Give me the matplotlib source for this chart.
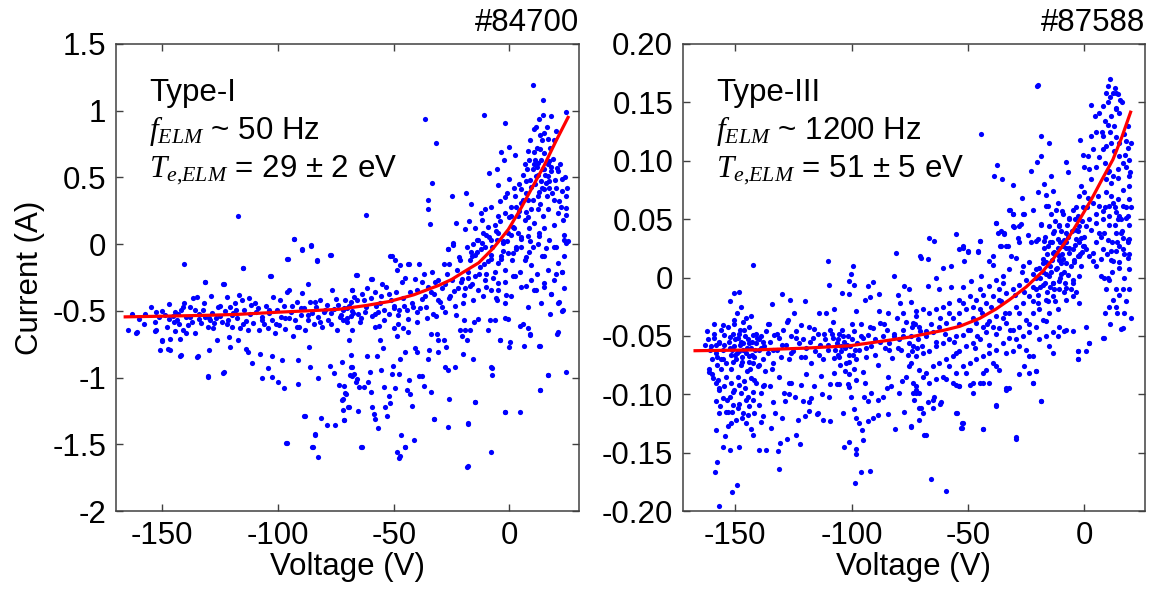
import numpy as np
import matplotlib
matplotlib.use("Agg")
import matplotlib.pyplot as plt

# ---- data (V, I) ----
pts_84700 = [
    (-164.7, -0.644), (-161.4, -0.664), (-152.9, -0.644), (-151.1, -0.794), (-150.0, -0.724),
    (-147.3, -0.784), (-146.8, -0.714), (-144.3, -0.654), (-142.3, -0.709), (-142.0, -0.834),
    (-140.4, -0.149), (-139.7, -0.669), (-135.8, -0.669), (-135.0, -0.844), (-131.7, -0.281),
    (-130.3, -0.994), (-129.7, -0.794), (-129.1, -0.389), (-126.2, -0.719), (-123.7, -0.299),
    (-123.7, -0.964), (-121.1, -0.699), (-120.7, -0.774), (-117.1, -0.719), (-116.8, -0.379),
    (-115.2, -0.181), (-113.8, -0.789), (-112.8, -0.806), (-111.1, -0.894), (-107.9, -0.824),
    (-106.8, -1.001), (-104.2, -0.931), (-103.4, -0.239), (-102.8, -0.839), (-102.5, -0.994),
    (-100.2, -1.031), (-98.2, -0.868), (-97.6, -1.081), (-96.3, -1.488), (-95.9, -0.114),
    (-95.4, -0.344), (-93.1, 0.036), (-91.4, -1.051), (-91.4, -0.868), (-89.6, -0.044),
    (-88.6, -1.288), (-87.1, -0.299), (-86.8, -0.769), (-86.1, -0.918), (-85.6, -0.014),
    (-84.2, -1.426), (-83.3, -0.124), (-82.5, -1.006), (-81.3, -1.301), (-78.7, -1.358),
    (-77.5, -0.081), (-77.5, -0.913), (-75.6, -0.968), (-75.3, -1.356), (-73.6, -1.056),
    (-72.0, -1.163), (-71.6, -1.318), (-71.0, -1.113), (-69.6, -1.218), (-68.1, -0.344),
    (-68.7, -0.981), (-68.4, -0.918), (-82.9, -1.593), (-85.3, -1.518),
    # dense band near the fit
    (-157.6, -0.524), (-152.9, -0.506), (-151.4, -0.549), (-149.0, -0.531), (-146.9, -0.564),
    (-145.4, -0.539), (-144.3, -0.506), (-143.7, -0.569), (-142.9, -0.599), (-141.9, -0.494),
    (-141.1, -0.469), (-140.4, -0.439), (-139.7, -0.549), (-139.0, -0.606), (-138.0, -0.544),
    (-136.6, -0.406), (-135.7, -0.494), (-134.8, -0.394), (-134.0, -0.564), (-133.3, -0.594),
    (-132.3, -0.494), (-131.4, -0.549), (-130.4, -0.619), (-129.4, -0.569), (-128.5, -0.519),
    (-127.7, -0.594), (-126.8, -0.556), (-126.1, -0.474), (-125.1, -0.539), (-124.0, -0.581),
    (-123.1, -0.499), (-122.2, -0.394), (-121.4, -0.569), (-120.8, -0.469), (-120.0, -0.619),
    (-119.4, -0.519), (-118.6, -0.444), (-117.6, -0.556), (-116.6, -0.631), (-115.7, -0.419),
    (-114.7, -0.494), (-114.0, -0.574), (-113.1, -0.644), (-112.5, -0.406), (-111.8, -0.456),
    (-110.8, -0.589), (-109.7, -0.506), (-108.5, -0.481), (-108.0, -0.644), (-106.8, -0.549),
    (-106.0, -0.599), (-105.1, -0.464), (-104.2, -0.631), (-103.7, -0.519), (-102.8, -0.569),
    (-102.2, -0.394), (-101.4, -0.669), (-100.4, -0.494), (-99.7, -0.606), (-98.5, -0.544),
    (-97.5, -0.464), (-96.8, -0.639), (-95.9, -0.356), (-95.4, -0.556), (-94.2, -0.506),
    (-93.6, -0.689), (-92.8, -0.569), (-91.8, -0.431), (-91.1, -0.619), (-90.2, -0.531),
    (-89.6, -0.369), (-88.8, -0.481), (-88.2, -0.644), (-87.1, -0.569), (-86.2, -0.431),
    (-85.3, -0.519), (-84.5, -0.599), (-83.6, -0.469), (-82.5, -0.549), (-81.8, -0.419),
    (-81.0, -0.624), (-79.9, -0.494), (-78.9, -0.456), (-78.2, -0.569), (-77.3, -0.519),
    (-76.5, -0.344), (-75.6, -0.489), (-74.7, -0.644), (-73.9, -0.456), (-73.0, -0.549),
    (-71.9, -0.494), (-71.0, -0.419), (-70.2, -0.581), (-69.3, -0.464), (-68.4, -0.539),
    (-67.4, -0.519), (-67.9, -0.644), (-67.0, -0.394),
    # -75..25 V, below the fit
    (-72.2, -0.88), (-69.3, -0.72), (-68.6, -0.83), (-68.2, -0.92), (-67.9, -0.99),
    (-67.2, -0.97), (-66.4, -1.03), (-65.7, -1.01), (-65.0, -1.07), (-71.5, -1.06),
    (-70.7, -1.12), (-72.2, -1.17), (-71.9, -1.24), (-71.5, -1.32), (-69.3, -1.22),
    (-65.3, -1.25), (-64.2, -1.52), (-62.9, -1.07), (-61.4, -0.84), (-61.0, -1.03),
    (-60.4, -0.96), (-60.0, -1.11), (-59.6, -1.22), (-58.6, -1.27), (-57.9, -1.31),
    (-56.7, -1.38), (-57.3, -0.84), (-56.1, -0.72), (-55.7, -0.94), (-54.7, -0.78),
    (-54.3, -1.07), (-53.6, -1.22), (-52.9, -1.29), (-52.1, -1.14), (-51.4, -1.19),
    (-50.7, -0.97), (-50.4, -0.91), (-50.0, -0.63), (-49.6, -1.08), (-48.4, -0.69),
    (-47.9, -0.97), (-47.1, -0.86), (-46.7, -1.43), (-46.1, -0.63), (-45.3, -0.81),
    (-45.0, -1.52), (-44.3, -1.09), (-43.8, -0.66), (-43.3, -1.02), (-42.8, -1.12),
    (-42.1, -1.21), (-41.4, -1.47), (-40.7, -0.78), (-40.0, -0.81), (-39.3, -0.99),
    (-37.8, -0.99), (-37.1, -1.06), (-35.0, -0.86), (-34.7, -0.79), (-34.1, -1.11),
    (-33.8, -0.67), (-32.5, -1.31), (-31.4, -0.67), (-31.0, -0.72), (-30.7, -0.81),
    (-28.1, -0.72), (-27.5, -0.77), (-27.8, -0.92), (-26.4, -0.94), (-26.1, -1.16),
    (-26.4, -1.37), (-23.5, -0.92), (-21.4, -0.64), (-20.7, -0.69), (-20.0, -0.82),
    (-19.5, -0.57), (-19.0, -0.64), (-18.5, -0.72), (-17.8, -1.34), (-17.1, -0.64),
    (-15.7, -0.86), (-15.2, -0.58), (-15.0, -1.18), (-13.5, -0.56), (-9.2, -0.64),
    (-8.5, -0.57), (-7.8, -0.92), (-7.5, -0.98), (-8.1, -1.56), (-6.4, -0.57),
    (-5.6, -0.42), (-4.2, -0.72), (-2.1, -1.26), (-0.6, -0.56), (-0.4, -0.77),
    (0.1, -0.73), (4.4, -1.26), (5.8, -0.60), (6.2, -0.76), (7.9, -0.63),
    (8.7, -0.67), (12.7, -0.76), (13.0, -1.09), (16.5, -0.98), (20.5, -0.67),
    (24.5, -0.96), (-18.1, -1.66), (-48.6, -1.56), (-47.9, -1.60),
    # -75..25 V, around the fit
    (-72.9, -0.53), (-71.5, -0.48), (-70.0, -0.55), (-68.6, -0.43), (-67.9, -0.34),
    (-66.2, -0.23), (-65.3, -0.52), (-64.7, -0.58), (-63.6, -0.37), (-62.9, -0.42),
    (-62.2, -0.51), (-61.4, -0.33), (-59.9, -0.26), (-59.3, -0.54), (-58.1, -0.36),
    (-57.6, -0.46), (-56.7, -0.51), (-56.4, -0.61), (-55.7, -0.39), (-54.3, -0.49),
    (-53.3, -0.32), (-52.1, -0.52), (-51.4, -0.09), (-51.0, -0.42), (-50.0, -0.48),
    (-49.0, -0.36), (-48.4, -0.19), (-47.6, -0.49), (-46.4, -0.28), (-45.6, -0.46),
    (-44.3, -0.49), (-43.8, -0.15), (-42.8, -0.36), (-41.8, -0.47), (-41.0, -0.26),
    (-40.0, -0.34), (-39.3, -0.15), (-38.6, -0.48), (-37.8, -0.28), (-36.7, -0.39),
    (-35.7, -0.55), (-35.0, -0.32), (-33.3, -0.21), (-32.4, -0.37), (-31.8, -0.54),
    (-30.7, -0.27), (-30.0, -0.43), (-29.2, -0.33), (-28.5, -0.15), (-27.8, -0.51),
    (-27.1, -0.22), (-26.4, -0.04), (-25.7, -0.39), (-25.0, -0.27), (-24.2, 0.01),
    (-23.5, -0.46), (-22.8, -0.19), (-22.1, -0.33), (-21.4, -0.12), (-20.4, -0.26),
    (-19.5, -0.38), (-18.5, -0.02), (-18.1, -0.21), (-17.1, -0.31), (-16.4, -0.09),
    (-15.7, -0.42), (-15.0, -0.24), (-14.2, 0.03), (-13.5, -0.34), (-12.8, -0.17),
    (-12.1, -0.04), (-11.4, -0.39), (-10.7, -0.27), (-10.0, 0.07), (-9.2, -0.13),
    (-8.1, -0.34), (-7.5, -0.02), (-6.4, -0.21), (-5.6, 0.03), (-4.9, -0.29),
    (-3.8, -0.11), (-2.8, 0.01), (-2.1, -0.19), (-1.4, -0.38), (-0.6, -0.07),
    (0.5, 0.07), (1.5, -0.24), (2.9, -0.04), (4.4, -0.21), (5.1, 0.04),
    (6.5, -0.12), (7.2, -0.31), (9.1, -0.16), (10.1, -0.02), (10.8, -0.34),
    (11.9, -0.22), (12.9, 0.06), (13.9, -0.09), (14.8, -0.32), (15.8, -0.03),
    (16.8, -0.19), (17.9, -0.37), (19.1, -0.27), (20.1, -0.02), (20.8, -0.14),
    (21.5, -0.43), (22.5, -0.21), (23.7, 0.03), (24.4, 0.01), (23.0, -0.49),
    # upper part, steep rise
    (-36.5, 0.94), (-31.9, 0.76), (-33.3, 0.46), (-35.3, 0.33), (-35.3, 0.26),
    (-34.3, 0.15), (-24.7, 0.36), (-18.6, 0.38), (-16.7, 0.30), (-22.9, 0.16),
    (-17.6, 0.17), (-19.0, 0.11), (-24.3, -0.01), (-26.4, -0.04), (-12.1, 0.23),
    (-10.7, 0.26), (-11.0, 0.97), (-2.1, 0.91), (10.3, 1.19), (14.3, 1.08),
    (24.3, 0.99), (17.9, 0.96), (14.3, 0.97), (12.9, 0.94), (10.5, 0.86),
    (15.0, 0.83), (13.9, 0.78), (16.8, 0.79), (19.3, 0.78), (13.3, 0.71),
    (10.5, 0.69), (-3.8, 0.69), (-0.4, 0.73), (2.2, 0.67), (-2.4, 0.63),
    (-5.6, 0.56), (-9.0, 0.53), (6.5, 0.60), (8.6, 0.63), (10.1, 0.56),
    (12.2, 0.61), (15.0, 0.56), (17.9, 0.58), (20.5, 0.57), (22.9, 0.49),
    (0.0, 0.49), (-5.0, 0.44), (1.9, 0.42), (4.3, 0.45), (7.2, 0.47),
    (11.5, 0.51), (13.6, 0.47), (15.8, 0.46), (14.8, 0.41), (17.2, 0.42),
    (12.2, 0.36), (19.3, 0.33), (24.3, 0.36), (22.2, 0.28), (20.8, 0.23),
    (24.3, 0.22), (19.3, 0.14), (23.6, 0.07), (25.1, 0.02), (2.2, 0.36),
    (5.0, 0.31), (7.9, 0.33), (9.3, 0.26), (0.7, 0.28), (-2.1, 0.23),
    (-5.0, 0.21), (-6.4, 0.14), (-9.3, 0.13), (-11.4, 0.08), (-13.6, 0.03),
    (-15.7, 0.00), (-16.7, -0.06), (-15.0, -0.08), (-10.7, -0.02), (-7.8, 0.03),
    (-5.0, 0.08), (-2.8, 0.02), (-0.7, 0.08), (1.5, 0.13), (3.6, 0.21),
    (6.5, 0.18), (8.6, 0.12), (10.8, 0.16), (12.9, 0.08), (15.0, 0.12),
    (17.2, 0.03), (19.3, -0.02), (12.2, 0.00), (8.6, -0.06), (5.0, -0.02),
    (1.5, -0.07), (-3.5, -0.09), (-7.8, -0.11), (23.6, -0.09), (15.0, -0.09),
    (7.9, 0.06), (3.6, 0.08), (5.0, 0.41), (12.9, 0.39), (16.5, 0.51),
    (11.0, 0.63), (-1.8, 0.35), (0.7, 0.21), (16.5, 0.26), (7.2, 0.24),
    (9.3, 0.43), (12.5, 0.26), (14.3, 0.21), (2.9, 0.28),
    # scattered, left half
    (-117.2, 0.21), (-131.4, -0.28), (-123.5, -0.30), (-115.1, -0.18), (-92.9, 0.04),
    (-89.6, -0.04), (-85.8, -0.01), (-83.3, -0.12), (-95.8, -0.11), (-103.2, -0.24),
    (-77.2, -0.08), (-66.0, -0.23), (-62.1, 0.22), (-59.6, -0.26), (-50.7, -0.09),
    (-49.3, -0.12), (-47.1, -0.16), (-43.6, -0.15),
    (-161.1, -0.66), (-153.0, -0.65), (-150.1, -0.72), (-146.8, -0.79), (-142.3, -0.84),
    (-134.7, -0.84), (-130.1, -0.99), (-123.4, -0.96), (-96.5, -1.49), (-85.0, -1.52),
    (-83.9, -1.43), (-88.3, -1.29), (-63.9, -1.52), (-47.4, -1.59), (-45.0, -1.52),
    (-18.5, -1.67), (-17.8, -1.35), (-15.0, -1.18), (-32.4, -1.31), (-2.1, -1.26),
    (13.4, -1.09), (16.8, -0.98), (20.8, -0.66), (22.7, -0.50), (20.8, -0.44),
    (13.0, -0.76), (-4.2, -0.72), (-7.5, -0.93), (4.4, -0.61), (8.7, -0.68),
    (2.2, -0.24), (5.1, -0.32), (9.4, -0.27), (11.5, -0.34), (15.1, -0.29),
    (18.0, -0.37), (20.1, -0.22), (22.9, -0.21), (23.7, -0.33), (0.8, -0.39),
    (8.0, -0.47), (13.7, -0.44), (17.3, -0.52), (-2.1, -0.44), (-4.9, -0.34),
]

# estimated extra points where the reference cloud is too dense to read one by one
pts_84700_dense = [
    (-163, -0.52), (-160, -0.56), (-158, -0.60), (-155, -0.47), (-153, -0.58), (-150, -0.50),
    (-148, -0.62), (-147, -0.45), (-145, -0.58), (-143, -0.52), (-141, -0.64), (-138, -0.47),
    (-137, -0.58), (-134, -0.52), (-132, -0.44), (-130, -0.55), (-128, -0.63), (-125, -0.46),
    (-122, -0.60), (-120, -0.53), (-118, -0.49), (-115, -0.60), (-112, -0.52), (-110, -0.44),
    (-107, -0.57), (-104, -0.49), (-101, -0.60), (-99, -0.42), (-97, -0.55), (-94, -0.46),
    (-92, -0.62), (-90, -0.48), (-87, -0.53), (-84, -0.43), (-82, -0.58), (-80, -0.51),
    (-77, -0.60), (-75, -0.41), (-72, -0.57), (-70, -0.48),
    (-68, -0.50), (-66, -0.42), (-64, -0.55), (-62, -0.47), (-60, -0.40), (-58, -0.52),
    (-56, -0.44), (-54, -0.57), (-52, -0.37), (-50, -0.46), (-48, -0.53), (-46, -0.40),
    (-44, -0.56), (-42, -0.44), (-40, -0.51), (-38, -0.41), (-36, -0.47), (-34, -0.36),
    (-33, -0.52), (-31, -0.42), (-29, -0.47), (-28, -0.30), (-26, -0.40), (-24, -0.35),
    (-23, -0.53), (-21, -0.28), (-20, -0.44), (-19, -0.33), (-55, -0.30), (-45, -0.25),
    (-37, -0.22), (-32, -0.28), (-26, -0.15), (-22, -0.10), (-58, -0.62), (-48, -0.60),
    (-40, -0.58),
    (-18, -0.25), (-17, -0.12), (-16, -0.30), (-14, -0.06), (-13, -0.22), (-12, 0.01),
    (-11, -0.15), (-10, -0.32), (-9, 0.05), (-8, -0.08), (-7, -0.25), (-6, 0.10),
    (-5, -0.14), (-4, 0.17), (-3, -0.05), (-2, -0.28), (-1, 0.02), (0, 0.20),
    (1, -0.12), (2, 0.12), (3, -0.02), (4, 0.25), (5, 0.05), (6, 0.33),
    (7, -0.10), (8, 0.20), (9, 0.02), (-15, 0.12), (-12, 0.18), (-8, 0.28),
    (-4, 0.32), (-1, 0.38), (-10, -0.22), (-6, -0.40), (-2, -0.55),
    (6, 0.52), (7, 0.38), (8, 0.70), (9, 0.48), (10, 0.33), (10.5, 0.60),
    (11, 0.45), (12, 0.72), (12.5, 0.52), (13, 0.30), (13.5, 0.63), (14, 0.42),
    (15, 0.68), (15.5, 0.52), (16, 0.36), (16.5, 0.60), (17, 0.47), (17.5, 0.72),
    (18, 0.55), (18.5, 0.38), (19, 0.64), (19.5, 0.48), (20, 0.42), (21, 0.55),
    (21.5, 0.32), (22, 0.60), (22.5, 0.40), (23, 0.18), (24, 0.50), (24.5, 0.27),
    (25, 0.42), (11.5, 0.88), (13, 0.82), (9, 0.78), (20, 0.85), (16, 0.88),
    (7.5, 0.56), (14.5, 0.56), (17, 0.62), (12, 0.58),
]

fit_v_84700 = [-166, -150, -130, -117, -100, -85, -73.6, -62, -52, -41.4, -30.7,
               -25, -20.4, -13.3, -7, -0.5, 5, 10, 15, 20, 25.3]
fit_i_84700 = [-0.545, -0.54, -0.533, -0.526, -0.51, -0.498, -0.488, -0.46, -0.43,
               -0.38, -0.31, -0.265, -0.215, -0.14, -0.03, 0.11, 0.27, 0.43, 0.59,
               0.77, 0.95]

pts_87588 = [
    # sparse, upper left
    (-142.5, 0.011), (-110.3, 0.014), (-81.0, 0.021), (-70.7, 0.018), (-101.3, -0.003),
    (-99.3, 0.010), (-100.3, 0.003), (-109.6, -0.006), (-104.2, -0.013), (-101.0, -0.014),
    (-98.9, -0.006), (-93.2, -0.007), (-91.0, -0.004), (-88.4, -0.014), (-81.7, 0.001),
    (-77.4, -0.007), (-75.3, -0.010), (-150.4, -0.013), (-148.3, -0.012), (-152.1, -0.020),
    (-147.5, -0.025), (-150.4, -0.036), (-145.4, -0.035), (-143.3, -0.033), (-130.1, -0.014),
    (-126.5, -0.019), (-119.9, -0.020), (-134.2, -0.023), (-124.7, -0.030), (-127.5, -0.036),
    (-155.4, -0.041), (-135.7, -0.040), (-113.9, -0.030), (-111.1, -0.030), (-107.5, -0.027),
    (-98.2, -0.029), (-94.2, -0.019), (-92.2, -0.017), (-88.2, -0.029), (-84.6, -0.030),
    (-80.3, -0.015), (-79.3, -0.022), (-74.6, -0.021), (-72.4, -0.029), (-78.1, -0.030),
    # sparse, lower left
    (-158.3, -0.131), (-154.3, -0.136), (-155.1, -0.145), (-152.1, -0.148), (-148.3, -0.145),
    (-157.9, -0.158), (-158.6, -0.167), (-149.4, -0.178), (-151.4, -0.184), (-156.9, -0.196),
    (-139.7, -0.148), (-136.8, -0.148), (-131.8, -0.149), (-131.4, -0.164), (-130.8, -0.142),
    (-127.8, -0.138), (-124.0, -0.135), (-122.2, -0.143), (-138.8, -0.124), (-138.0, -0.119),
    (-134.7, -0.129), (-133.1, -0.116), (-129.9, -0.120), (-122.9, -0.122), (-119.9, -0.119),
    (-118.5, -0.114), (-114.9, -0.117), (-112.2, -0.122), (-109.3, -0.123), (-103.9, -0.116),
    (-103.2, -0.145), (-101.3, -0.141), (-98.2, -0.147), (-98.2, -0.151), (-95.3, -0.139),
    (-95.6, -0.131), (-96.0, -0.167), (-92.2, -0.166), (-98.5, -0.176), (-98.9, -0.113),
    (-98.2, -0.120), (-96.7, -0.125), (-93.2, -0.123), (-91.0, -0.120), (-88.9, -0.118),
    (-84.3, -0.117), (-81.6, -0.130), (-77.4, -0.115), (-74.6, -0.128), (-71.0, -0.122),
    (-71.0, -0.112), (-72.4, -0.096), (-73.1, -0.105),
    # middle band, left
    (-161.2, -0.081), (-159.7, -0.086), (-158.3, -0.090), (-156.9, -0.096), (-158.3, -0.106),
    (-154.0, -0.115), (-151.1, -0.109), (-149.0, -0.112), (-146.8, -0.116), (-144.0, -0.110),
    (-141.8, -0.116), (-144.7, -0.102), (-142.5, -0.098), (-147.5, -0.099), (-150.4, -0.096),
    (-152.5, -0.102), (-154.7, -0.093), (-155.4, -0.103), (-151.8, -0.090), (-148.3, -0.092),
    (-146.1, -0.089), (-143.3, -0.086), (-141.1, -0.090), (-138.3, -0.093), (-137.5, -0.092),
    (-135.1, -0.093), (-134.0, -0.107), (-128.5, -0.106), (-128.9, -0.099), (-126.8, -0.100),
    (-127.1, -0.090), (-124.2, -0.102), (-121.8, -0.092), (-121.1, -0.106), (-118.5, -0.107),
    (-117.5, -0.103), (-116.1, -0.093), (-114.6, -0.116), (-112.8, -0.100), (-109.6, -0.102),
    (-109.3, -0.091), (-106.5, -0.091), (-105.3, -0.091), (-101.8, -0.091), (-101.0, -0.094),
    (-100.3, -0.102), (-101.0, -0.083), (-98.2, -0.088), (-94.2, -0.090), (-94.6, -0.102),
    (-93.2, -0.106), (-91.7, -0.099), (-88.9, -0.105), (-86.7, -0.102), (-85.0, -0.095),
    (-83.1, -0.093), (-79.8, -0.099), (-78.4, -0.089), (-76.7, -0.085), (-73.8, -0.090),
    (-71.0, -0.099), (-84.6, -0.085), (-95.3, -0.081), (-107.5, -0.082), (-113.2, -0.084),
    (-119.6, -0.083), (-126.1, -0.090), (-131.1, -0.085), (-134.2, -0.078), (-137.1, -0.080),
    (-139.0, -0.099), (-139.7, -0.109), (-145.4, -0.125), (-147.1, -0.120), (-149.7, -0.122),
    (-153.3, -0.115), (-157.1, -0.116), (-151.8, -0.125), (-143.3, -0.130), (-142.5, -0.135),
    (-153.3, -0.127),
    # dense band near the fit, left
    (-161.9, -0.053), (-160.4, -0.059), (-159.0, -0.052), (-158.3, -0.065), (-156.9, -0.056),
    (-156.1, -0.070), (-155.4, -0.062), (-154.7, -0.049), (-154.0, -0.073), (-152.6, -0.055),
    (-151.9, -0.066), (-151.1, -0.048), (-150.4, -0.059), (-149.7, -0.070), (-149.0, -0.052),
    (-148.3, -0.063), (-147.6, -0.075), (-146.8, -0.056), (-146.1, -0.045), (-145.4, -0.065),
    (-144.7, -0.053), (-144.0, -0.072), (-143.3, -0.060), (-142.6, -0.049), (-141.8, -0.068),
    (-141.1, -0.056), (-140.4, -0.076), (-139.7, -0.062), (-139.0, -0.050), (-138.3, -0.070),
    (-137.5, -0.059), (-136.8, -0.046), (-136.1, -0.065), (-135.1, -0.055), (-134.0, -0.073),
    (-133.2, -0.049), (-132.2, -0.062), (-131.1, -0.052), (-130.4, -0.068), (-129.4, -0.045),
    (-128.2, -0.058), (-127.1, -0.070), (-126.1, -0.050), (-125.1, -0.063), (-123.9, -0.046),
    (-122.8, -0.056), (-121.8, -0.068), (-120.8, -0.053), (-119.7, -0.060), (-118.5, -0.042),
    (-117.5, -0.073), (-116.8, -0.052), (-115.6, -0.063), (-114.6, -0.048), (-113.6, -0.058),
    (-112.5, -0.070), (-111.3, -0.053), (-110.4, -0.062), (-109.4, -0.045), (-108.2, -0.052),
    (-107.5, -0.069), (-106.5, -0.056), (-105.3, -0.048), (-104.5, -0.063), (-103.3, -0.055),
    (-102.5, -0.073), (-101.6, -0.050), (-100.8, -0.059), (-99.6, -0.066), (-98.9, -0.046),
    (-97.9, -0.056), (-96.8, -0.062), (-95.9, -0.040), (-95.0, -0.052), (-93.9, -0.068),
    (-93.0, -0.049), (-91.9, -0.059), (-91.0, -0.043), (-89.9, -0.053), (-88.9, -0.075),
    (-87.9, -0.039), (-86.7, -0.050), (-85.9, -0.060), (-85.0, -0.045), (-83.9, -0.056),
    (-82.7, -0.069), (-81.7, -0.048), (-80.7, -0.035), (-79.6, -0.053), (-78.7, -0.062),
    (-77.9, -0.045), (-76.7, -0.038), (-75.6, -0.056), (-74.6, -0.050), (-73.9, -0.063),
    (-72.7, -0.040), (-71.7, -0.053), (-70.7, -0.046), (-69.9, -0.059),
    (-152.3, -0.051), (-151.4, -0.062), (-150.0, -0.053), (-149.4, -0.065), (-148.0, -0.058),
    (-147.1, -0.068), (-145.7, -0.050), (-145.1, -0.060), (-144.3, -0.067), (-142.8, -0.055),
    (-141.4, -0.062), (-140.0, -0.053), (-148.6, -0.048), (-146.6, -0.062), (-150.8, -0.072),
    (-144.0, -0.056), (-142.3, -0.073), (-140.8, -0.052), (-108.5, -0.048), (-107.1, -0.062),
    (-105.6, -0.068), (-103.9, -0.050), (-102.8, -0.060), (-101.3, -0.066), (-99.9, -0.053),
    (-98.5, -0.062), (-106.1, -0.053), (-104.6, -0.059),
    (-162.0, -0.046), (-161.0, -0.062), (-160.0, -0.070), (-159.0, -0.048), (-158.0, -0.075),
    (-157.0, -0.055), (-156.0, -0.045), (-161.5, -0.078), (-160.0, -0.083), (-157.5, -0.088),
    (-163.0, -0.058), (-158.5, -0.058),
    # -75..25 V
    (-66.9, 0.034), (-64.5, 0.031), (-55.2, 0.037), (-70.2, 0.017), (-67.3, 0.016),
    (-52.3, 0.027), (-53.7, 0.024), (-50.2, 0.023), (-45.9, 0.023), (-45.1, 0.031),
    (-51.6, 0.014), (-57.3, 0.010), (-60.9, 0.008), (-63.8, 0.000), (-67.3, -0.007),
    (-62.3, -0.010), (-57.3, -0.008), (-52.3, -0.008), (-48.7, -0.003), (-44.4, 0.001),
    (-40.9, 0.014), (-39.4, 0.011), (-38.0, 0.047), (-37.3, 0.038), (-34.4, 0.038),
    (-32.3, 0.058), (-30.8, 0.054), (-26.5, 0.054), (-22.3, 0.058), (-27.3, 0.046),
    (-30.1, 0.043), (-35.8, 0.027), (-33.0, 0.027), (-28.0, 0.030), (-24.4, 0.036),
    (-20.8, 0.031), (-18.7, 0.046), (-16.5, 0.061), (-14.4, 0.054), (-12.2, 0.058),
    (-9.4, 0.054), (-6.5, 0.051), (-3.6, 0.060), (-2.2, 0.044), (2.1, 0.050),
    (4.9, 0.054), (7.8, 0.057), (10.7, 0.061), (13.5, 0.056), (15.7, 0.038),
    (17.8, 0.051), (19.2, 0.033), (8.5, 0.038), (4.9, 0.030), (13.5, 0.023),
    (16.4, 0.024), (18.5, 0.017), (7.1, 0.016), (3.5, 0.014), (2.1, 0.018),
    (12.1, 0.014), (15.0, 0.013), (19.2, 0.007), (-3.6, 0.033), (-7.9, 0.030),
    (-0.8, 0.027), (-10.8, 0.018), (-13.7, 0.021), (-18.0, 0.016), (-20.8, 0.007),
    (-23.7, 0.013), (-26.5, 0.010), (-29.4, 0.017), (-32.3, 0.007), (-35.1, 0.001),
    (-38.0, -0.002), (-36.6, -0.010), (-40.9, -0.007), (-43.7, -0.015), (-46.6, -0.019),
    (-49.4, -0.016), (-53.7, -0.019), (-58.0, -0.022), (-60.9, -0.025), (-63.8, -0.027),
    (-66.6, -0.030), (-69.5, -0.027), (-72.3, -0.033), (-73.8, -0.039), (-70.9, -0.042),
    (-68.0, -0.046), (-65.2, -0.047), (-62.3, -0.042), (-59.5, -0.039), (-56.6, -0.035),
    (-53.7, -0.030), (-50.9, -0.027), (-48.0, -0.025), (-45.1, -0.027), (-42.3, -0.022),
    (-39.4, -0.016), (-36.6, -0.019), (-33.7, -0.013), (-30.8, -0.010), (-28.0, -0.006),
    (-25.1, -0.002), (-22.3, 0.003), (-19.4, 0.008), (-16.5, 0.013), (-15.1, 0.001),
    (-12.2, 0.007), (-9.4, 0.016), (-6.5, 0.021), (-4.4, 0.013), (-2.2, 0.018),
    (0.6, 0.024), (-10.1, 0.003), (-13.7, -0.005), (-18.0, -0.006), (-20.8, -0.010),
    (-23.7, -0.016), (-26.5, -0.022), (-29.4, -0.025), (-32.3, -0.030), (-35.1, -0.035),
    (-38.0, -0.033), (-40.9, -0.037), (-43.7, -0.042), (-46.6, -0.039), (-49.4, -0.045),
    (-52.3, -0.049), (-55.2, -0.050), (-58.0, -0.053), (-60.9, -0.056), (-63.8, -0.059),
    (-66.6, -0.063), (-69.5, -0.065), (-72.3, -0.067), (-73.8, -0.059), (-74.5, -0.073),
    (-70.9, -0.079), (-68.0, -0.082), (-65.2, -0.076), (-62.3, -0.073), (-59.5, -0.070),
    (-56.6, -0.067), (-53.7, -0.063), (-50.9, -0.059), (-48.0, -0.056), (-45.1, -0.053),
    (-42.3, -0.047), (-39.4, -0.042), (-36.6, -0.043), (-33.7, -0.039), (-30.8, -0.045),
    (-28.0, -0.042), (-25.1, -0.036), (-22.3, -0.030), (-19.4, -0.027), (-16.5, -0.019),
    (-13.7, -0.016), (-10.8, -0.010), (-7.9, -0.009), (-5.1, -0.005), (-2.2, 0.001),
    (-7.9, -0.019), (-5.1, -0.016), (-2.2, -0.022), (-11.5, -0.027), (-15.1, -0.030),
    (-18.0, -0.036), (-20.8, -0.042), (-23.7, -0.047), (-26.5, -0.050), (-29.4, -0.053),
    (-32.3, -0.052), (-35.1, -0.056), (-38.0, -0.062), (-40.9, -0.065), (-43.7, -0.067),
    (-46.6, -0.070), (-49.4, -0.073), (-52.3, -0.076), (-55.2, -0.082), (-58.0, -0.076),
    (-60.9, -0.085), (-63.8, -0.087), (-66.6, -0.090), (-69.5, -0.085), (-72.3, -0.093),
    (-59.5, -0.087), (-56.6, -0.090), (-53.7, -0.093), (-50.9, -0.082), (-48.0, -0.090),
    (-45.1, -0.090), (-42.3, -0.079), (-39.4, -0.073), (-36.6, -0.079), (-33.7, -0.065),
    (-30.8, -0.063), (-28.0, -0.059), (-25.1, -0.062), (-22.3, -0.067), (-19.4, -0.053),
    (-16.5, -0.050), (-13.7, -0.047), (-10.8, -0.042), (-7.9, -0.045), (-5.1, -0.046),
    (-15.1, -0.059), (-13.7, -0.065), (-16.5, -0.037), (2.1, -0.056), (-3.0, -0.063),
    (-3.0, -0.070), (0.6, -0.042), (8.5, -0.052), (16.4, -0.043), (10.7, -0.002),
    (13.5, -0.010), (16.4, -0.010), (12.1, -0.019), (13.5, -0.025), (10.7, -0.025),
    (7.1, 0.001), (9.2, -0.010),
    (-75.2, -0.076), (-73.8, -0.099), (-72.3, -0.099), (-70.2, -0.112), (-69.5, -0.116),
    (-67.3, -0.107), (-65.2, -0.112), (-64.5, -0.102), (-61.6, -0.107), (-55.2, -0.116),
    (-52.3, -0.125), (-53.0, -0.129), (-43.7, -0.130), (-38.0, -0.109), (-29.4, -0.137),
    (-18.7, -0.106), (-68.8, -0.135), (-74.5, -0.127), (-23.7, -0.082), (-28.0, -0.083),
    (-22.3, -0.090), (-32.3, -0.095), (-33.7, -0.096), (-40.9, -0.090), (-49.4, -0.092),
    (-43.7, -0.082), (-38.0, -0.076), (-25.8, -0.076), (-20.8, -0.080), (-23.7, -0.067),
    (-11.5, -0.050), (-8.7, -0.046),
    # upper right, steep rise
    (-20.1, 0.165), (-20.5, 0.164), (11.1, 0.170), (-44.4, 0.123), (-18.9, 0.121),
    (-15.3, 0.115), (-37.5, 0.096), (-38.7, 0.087), (-35.4, 0.084), (-30.8, 0.079),
    (-22.9, 0.091), (-20.5, 0.099), (-18.9, 0.104), (-7.9, 0.099), (-7.2, 0.090),
    (-14.3, 0.087), (-17.2, 0.080), (-19.8, 0.073), (-16.5, 0.071), (-13.6, 0.074),
    (-26.8, 0.068), (-32.2, 0.058), (-30.8, 0.054), (-26.1, 0.054), (-18.6, 0.045),
    (-15.8, 0.061), (-11.5, 0.064), (-9.6, 0.057), (-37.9, 0.047), (-35.8, 0.040),
    (-34.4, 0.037), (-30.8, 0.044), (-28.0, 0.044), (-28.7, 0.034), (-33.7, 0.027),
    (-36.5, 0.027), (-22.9, 0.030), (-20.1, 0.033), (-44.8, 0.031), (-45.8, 0.022),
    (-50.1, 0.022), (-52.3, 0.025), (-31.5, 0.018), (-39.4, 0.018),
    (2.8, 0.148), (7.8, 0.147), (9.3, 0.158), (12.1, 0.158), (14.3, 0.157),
    (15.4, 0.152), (10.0, 0.150), (13.6, 0.144), (6.4, 0.141), (4.7, 0.138),
    (11.4, 0.138), (15.0, 0.141), (8.6, 0.134), (10.0, 0.131), (12.8, 0.130),
    (5.0, 0.125), (7.8, 0.121), (17.1, 0.123), (17.9, 0.117), (13.6, 0.120),
    (11.4, 0.115), (9.3, 0.113), (2.8, 0.121), (-1.9, 0.118), (3.6, 0.110),
    (-0.7, 0.105), (1.4, 0.104), (6.4, 0.103), (8.6, 0.098), (15.0, 0.104),
    (16.4, 0.098), (17.9, 0.095), (19.3, 0.087), (14.3, 0.093), (10.7, 0.091),
    (12.1, 0.087), (9.3, 0.084), (11.4, 0.081), (0.0, 0.095), (2.1, 0.093),
    (5.0, 0.095), (2.8, 0.084), (-1.5, 0.078), (0.0, 0.073), (-2.2, 0.070),
    (1.4, 0.068), (3.6, 0.064), (6.4, 0.061), (9.3, 0.073), (12.1, 0.064),
    (14.3, 0.067), (16.4, 0.061), (18.6, 0.053), (15.0, 0.053), (10.7, 0.053),
    (7.8, 0.050), (5.0, 0.047), (2.8, 0.041), (0.7, 0.044), (-2.9, 0.053),
    (-5.0, 0.058), (-6.5, 0.050), (-3.6, 0.041), (-1.5, 0.034), (6.4, 0.038),
    (10.0, 0.032), (13.6, 0.038), (16.4, 0.034), (18.6, 0.032), (15.0, 0.027),
    (11.4, 0.023), (7.8, 0.024), (3.6, 0.021), (0.0, 0.027), (-5.0, 0.024),
    (-9.3, 0.027), (-11.5, 0.033), (-13.6, 0.038), (-15.8, 0.027), (-10.8, 0.044),
    (-7.9, 0.038), (-12.2, 0.021), (-17.2, 0.031), (-15.1, 0.044), (19.3, 0.078),
    (19.0, 0.067), (18.6, 0.111), (19.3, 0.101), (10.0, 0.164), (13.6, 0.158),
    # lower right
    (-66.1, -0.173), (-59.7, -0.183), (-54.8, -0.116), (-52.5, -0.125), (-52.5, -0.129),
    (-43.7, -0.130), (-37.9, -0.110), (-29.3, -0.138), (-18.6, -0.106), (-68.0, -0.135),
    (-62.0, -0.108), (-65.1, -0.105), (-55.1, -0.092), (-53.7, -0.093), (-48.0, -0.099),
    (-43.7, -0.090), (-33.7, -0.095), (-22.2, -0.090), (-20.8, -0.080), (0.7, -0.063),
    (-2.9, -0.070), (7.9, -0.052), (2.1, -0.056), (15.7, -0.044), (-2.9, -0.063),
]

# estimated extra points for the densest parts of the cloud
pts_87588_dense = [
    (-159, -0.040), (-158, -0.068), (-157, -0.095), (-156, -0.078), (-155, -0.058),
    (-154, -0.085), (-153, -0.042), (-152, -0.078), (-151, -0.098), (-150, -0.066),
    (-149, -0.085), (-148, -0.045), (-147, -0.072), (-146, -0.095), (-145, -0.080),
    (-144, -0.042), (-143, -0.066), (-142, -0.088), (-141, -0.048), (-140, -0.075),
    (-139, -0.060), (-150.5, -0.040), (-147.5, -0.055), (-145.5, -0.105), (-153.5, -0.105),
    (-149.5, -0.030), (-146.5, -0.038), (-143.5, -0.078), (-155.5, -0.070), (-152.5, -0.060),
    (-148.5, -0.108), (-144.5, -0.118), (-156.5, -0.110), (-142.5, -0.105), (-151.5, -0.115),
    (-138, -0.055), (-136, -0.040), (-134, -0.062), (-132, -0.048), (-130, -0.058),
    (-128, -0.038), (-126, -0.065), (-124, -0.052), (-122, -0.041), (-120, -0.068),
    (-118, -0.055), (-116, -0.044), (-114, -0.066), (-112, -0.048), (-110, -0.058),
    (-108, -0.038), (-106, -0.066), (-104, -0.045), (-102, -0.058), (-100, -0.040),
    (-98, -0.070), (-96, -0.050), (-94, -0.060), (-92, -0.042), (-90, -0.066),
    (-88, -0.055), (-86, -0.040), (-84, -0.062), (-82, -0.050), (-80, -0.060),
    (-78, -0.050), (-76, -0.066), (-74, -0.042), (-72, -0.060), (-105, -0.075),
    (-103, -0.080), (-101, -0.072), (-99, -0.078),
    (-68, -0.050), (-66, -0.040), (-64, -0.055), (-62, -0.035), (-60, -0.048),
    (-58, -0.030), (-56, -0.055), (-54, -0.040), (-52, -0.022), (-50, -0.045),
    (-48, -0.035), (-46, -0.050), (-44, -0.030), (-42, -0.040), (-40, -0.025),
    (-38, -0.048), (-36, -0.020), (-34, -0.030), (-32, -0.045), (-30, -0.015),
    (-28, -0.030), (-26, -0.012), (-24, -0.040), (-22, -0.008), (-20, -0.022),
    (-45, -0.010), (-35, -0.005), (-27, 0.005), (-55, -0.065), (-47, -0.060),
    (-41, -0.058),
    (-19, -0.008), (-18, 0.012), (-17.5, 0.025), (-16.5, 0.003), (-16, 0.020),
    (-15.5, -0.020), (-14.5, 0.005), (-14, 0.030), (-13.5, -0.005), (-12, 0.008),
    (-11.5, 0.025), (-10.5, 0.000), (-10, 0.040), (-9.5, 0.020), (-8.5, -0.005),
    (-8, 0.012), (-7.5, 0.045), (-6.5, 0.025), (-6, -0.010), (-5.5, 0.040),
    (-4.5, 0.015), (-4, 0.050), (-3.5, -0.012), (-2.5, 0.030), (-1.5, 0.010),
    (-0.5, 0.060), (-1, 0.022), (-11, 0.015), (-13, 0.022), (-15, -0.008),
    (-17, 0.035), (-9, 0.032), (-7, 0.002), (-3, 0.018), (-12.5, 0.048),
    (-19.0, 0.000), (-17.0, -0.005), (-15.0, 0.010), (-13.0, -0.010), (-12.0, 0.020),
    (-11.0, -0.003), (-10.0, 0.012), (-9.0, -0.012), (-8.0, 0.025), (-14.0, 0.015),
    (-16.0, -0.012), (-18.0, 0.005), (-20.0, -0.015), (-21.0, 0.000), (-22.0, -0.020),
    (-12.5, -0.020), (-10.5, 0.030), (-9.0, 0.005), (-7.0, 0.035), (-6.0, 0.010),
    (-5.0, -0.002), (-4.0, 0.028), (-3.0, 0.040), (-2.0, 0.020), (-1.0, 0.048),
    (0.0, 0.035), (1.0, 0.060), (-13.0, 0.040), (-15.0, 0.030), (-11.0, 0.045),
    (5, 0.010), (6, 0.070), (7, 0.035), (8, 0.110), (9, 0.060),
    (9.5, 0.020), (10, 0.090), (10.5, 0.045), (11, 0.125), (11.5, 0.070),
    (12, 0.005), (12.5, 0.108), (13, 0.060), (13.5, 0.145), (14, 0.030),
    (14.5, 0.085), (15, 0.115), (15.5, 0.050), (16, 0.150), (16.5, 0.075),
    (17, 0.020), (17.5, 0.105), (18, 0.060), (18.5, 0.130), (19, 0.045),
    (19.5, 0.090), (20, 0.115), (20, 0.060), (8.5, 0.000), (7.5, 0.125),
    (13, 0.162), (11, 0.155), (15, 0.008), (17, -0.030), (19, -0.010),
    (10.0, 0.000), (12.0, 0.030), (14.0, -0.030), (16.0, 0.040), (18.0, -0.020),
    (19.0, 0.020), (11.0, -0.040), (13.0, 0.045), (17.0, 0.000), (15.0, -0.015),
    (20.0, -0.035), (11.5, 0.015), (14.5, 0.050), (18.5, 0.030), (9.0, -0.030),
]

fit_v_87588 = [-167.3, -141, -120, -101, -85, -75, -69.6, -60, -53.6, -45, -38,
               -32.2, -25, -17.9, -13.6, -6.4, -2, 3, 7, 12.2, 16, 19.8]
fit_i_87588 = [-0.0627, -0.062, -0.0605, -0.0585, -0.054, -0.051, -0.0488, -0.045,
               -0.0418, -0.035, -0.027, -0.019, -0.008, 0.0054, 0.0155, 0.0355, 0.05,
               0.067, 0.082, 0.101, 0.12, 0.1416]

xticks = [-150, -100, -50, 0]
yticks_84700 = [1.5, 1, 0.5, 0, -0.5, -1, -1.5, -2]
ylabels_84700 = ["1.5", "1", "0.5", "0", "-0.5", "-1", "-1.5", "-2"]
yticks_87588 = [0.20, 0.15, 0.10, 0.05, 0, -0.05, -0.10, -0.15, -0.20]
ylabels_87588 = ["0.20", "0.15", "0.10", "0.05", "0", "-0.05", "-0.10", "-0.15", "-0.20"]

# ---- style ----
plt.rcParams.update({
    "font.family": "Liberation Sans",
    "font.size": 22.5,
    "mathtext.fontset": "custom",
    "mathtext.rm": "Liberation Serif",
    "mathtext.it": "Liberation Serif:italic",
    "axes.linewidth": 1.1,
    "axes.edgecolor": "#404040",
})

fig = plt.figure(figsize=(11.56, 5.89), dpi=100)
ax1 = fig.add_axes([0.1003, 0.1324, 0.4005, 0.7929])
ax2 = fig.add_axes([0.5908, 0.1324, 0.3997, 0.7929])


def panel(ax, pts, fit_v, fit_i, xlim, yticks, ylabels, shot, lines):
    v, i = np.array(pts).T
    ax.scatter(v, i, s=14, c="#0000ff", marker="o", linewidths=0, zorder=2)
    ax.plot(fit_v, fit_i, color="#ff0000", lw=2.3, zorder=3)
    ax.set_xlim(*xlim)
    ax.set_ylim(yticks[-1], yticks[0])
    ax.set_xticks(xticks, [str(t) for t in xticks])
    ax.set_yticks(yticks, ylabels)
    ax.tick_params(direction="in", length=5, width=1.0, color="#404040",
                   top=True, right=True, pad=7)
    ax.tick_params(axis="x", pad=7)
    ax.set_xlabel("Voltage (V)", labelpad=1)
    ax.text(1.0, 1.012, shot, transform=ax.transAxes, ha="right", va="bottom")
    ys = [0.878, 0.797, 0.716]
    for y, s in zip(ys, lines):
        ax.text(0.071, y, s, transform=ax.transAxes, ha="left", va="baseline")


panel(ax1, pts_84700 + pts_84700_dense, fit_v_84700, fit_i_84700, (-170, 30),
      yticks_84700, ylabels_84700, "#84700",
      ["Type-I", r"$f_{ELM}$ ~ 50 Hz", r"$T_{e{,}ELM}$ = 29 ± 2 eV"])
panel(ax2, pts_87588 + pts_87588_dense, fit_v_87588, fit_i_87588, (-172.5, 26),
      yticks_87588, ylabels_87588, "#87588",
      ["Type-III", r"$f_{ELM}$ ~ 1200 Hz", r"$T_{e{,}ELM}$ = 51 ± 5 eV"])

ax1.set_ylabel("Current (A)", labelpad=5)

fig.savefig("out.png", dpi=100)
